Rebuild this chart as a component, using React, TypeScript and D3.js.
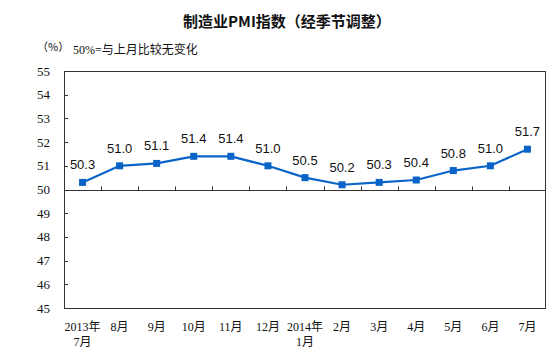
import React, { useEffect, useRef } from 'react';
import * as d3 from 'd3';

const categories = ['2013年\n7月', '8月', '9月', '10月', '11月', '12月', '2014年\n1月', '2月', '3月', '4月', '5月', '6月', '7月'];
const pmiValues = [50.3, 51.0, 51.1, 51.4, 51.4, 51.0, 50.5, 50.2, 50.3, 50.4, 50.8, 51.0, 51.7];
const yTicks = [45, 46, 47, 48, 49, 50, 51, 52, 53, 54, 55];

const W = 553;
const H = 364;

const draw = (node: SVGSVGElement) => {
    const svg = d3.select(node);
    svg.selectAll('*').remove();

    const margin = { top: 71, right: 7, bottom: 56, left: 64 };
    const plotRight = W - margin.right;
    const plotBottom = H - margin.bottom;

    const xscale = d3.scaleBand<string>()
        .domain(categories)
        .range([margin.left, plotRight]);

    const yscale = d3.scaleLinear()
        .domain([45, 55])
        .range([plotBottom, margin.top]);

    const cx = (i: number) => (xscale(categories[i]) as number) + xscale.bandwidth() / 2;

    // title + notes
    svg.append('text')
        .attr('x', 287).attr('y', 27)
        .attr('text-anchor', 'middle')
        .attr('font-family', '"Noto Sans CJK SC", sans-serif')
        .attr('font-weight', 'bold')
        .attr('font-size', 15)
        .attr('fill', '#111')
        .text('制造业PMI指数（经季节调整）');

    svg.append('text')
        .attr('x', 37).attr('y', 51)
        .attr('font-family', '"Noto Sans CJK SC", sans-serif')
        .attr('font-size', 11)
        .attr('fill', '#111')
        .text('（%）');

    svg.append('text')
        .attr('x', 73).attr('y', 54)
        .attr('font-family', '"Liberation Serif", "Noto Sans CJK SC", serif')
        .attr('font-size', 12)
        .attr('fill', '#111')
        .text('50%=与上月比较无变化');

    // frame
    svg.append('rect')
        .attr('x', margin.left + 0.5).attr('y', margin.top + 0.5)
        .attr('width', plotRight - margin.left - 1)
        .attr('height', plotBottom - margin.top)
        .attr('fill', 'none')
        .attr('stroke', '#333')
        .attr('stroke-width', 1);

    // y ticks + labels
    const yg = svg.append('g');
    yg.selectAll('line')
        .data(yTicks.slice(1, -1))
        .enter()
        .append('line')
        .attr('x1', margin.left).attr('x2', margin.left + 4)
        .attr('y1', d => Math.round(yscale(d)) + 0.5)
        .attr('y2', d => Math.round(yscale(d)) + 0.5)
        .attr('stroke', '#333');
    yg.selectAll('text')
        .data(yTicks)
        .enter()
        .append('text')
        .attr('x', 50)
        .attr('y', d => yscale(d))
        .attr('dy', '0.35em')
        .attr('text-anchor', 'end')
        .attr('font-family', '"Liberation Serif", serif')
        .attr('font-size', 13)
        .attr('fill', '#111')
        .text(d => d);

    // 50 line and x ticks
    const y50 = Math.round(yscale(50)) + 0.5;
    svg.append('line')
        .attr('x1', margin.left).attr('x2', plotRight)
        .attr('y1', y50).attr('y2', y50)
        .attr('stroke', '#333');
    svg.append('g')
        .selectAll('line')
        .data(categories.slice(1))
        .enter()
        .append('line')
        .attr('x1', d => Math.round(xscale(d) as number) + 0.5)
        .attr('x2', d => Math.round(xscale(d) as number) + 0.5)
        .attr('y1', y50).attr('y2', y50 - 4)
        .attr('stroke', '#333');

    // x labels
    const xl = svg.append('g')
        .selectAll('text')
        .data(categories)
        .enter()
        .append('text')
        .attr('x', (d, i) => cx(i))
        .attr('y', 331)
        .attr('text-anchor', 'middle')
        .attr('font-family', '"Liberation Serif", "Noto Sans CJK SC", serif')
        .attr('font-size', 12)
        .attr('fill', '#111');
    xl.each(function (d) {
        const parts = d.split('\n');
        parts.forEach((p, k) => {
            d3.select(this).append('tspan')
                .attr('x', cx(categories.indexOf(d)))
                .attr('dy', k === 0 ? 0 : 15)
                .text(p);
        });
    });

    // line
    const line = d3.line<number>()
        .x((d, i) => cx(i))
        .y(d => yscale(d));
    svg.append('path')
        .datum(pmiValues)
        .attr('d', line)
        .attr('fill', 'none')
        .attr('stroke', '#0a64c8')
        .attr('stroke-width', 2.2);

    svg.append('g')
        .selectAll('rect')
        .data(pmiValues)
        .enter()
        .append('rect')
        .attr('x', (d, i) => cx(i) - 3.5)
        .attr('y', d => yscale(d) - 3.5)
        .attr('width', 7).attr('height', 7)
        .attr('fill', '#0a64c8');

    svg.append('g')
        .selectAll('text')
        .data(pmiValues)
        .enter()
        .append('text')
        .attr('x', (d, i) => cx(i))
        .attr('y', d => yscale(d) - 13)
        .attr('text-anchor', 'middle')
        .attr('font-family', '"Liberation Sans", Arial, sans-serif')
        .attr('font-size', 13)
        .attr('fill', '#111')
        .text(d => d.toFixed(1));
};

export default function App() {
    const ref = useRef<SVGSVGElement>(null);
    useEffect(() => {
        if (ref.current) draw(ref.current);
    }, []);
    return (
        <div style={{ position: 'absolute', left: 0, top: 0 }}>
            <svg ref={ref} width={W} height={H} style={{ display: 'block', background: '#fff' }} />
        </div>
    );
}
